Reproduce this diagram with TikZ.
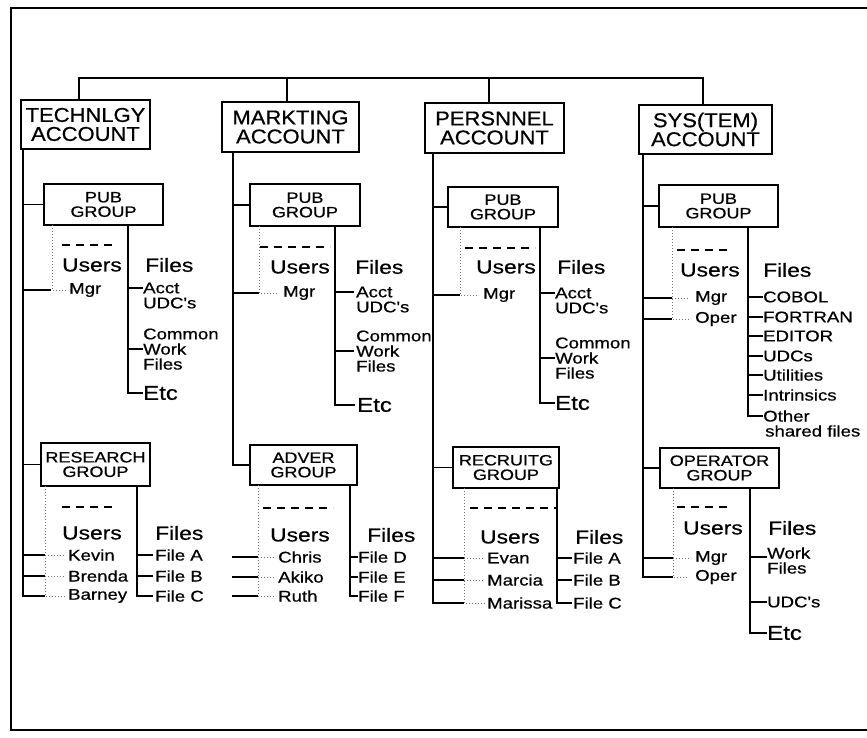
\documentclass[tikz,border=0pt]{standalone}
\usepackage{fontspec}
\setmainfont{Liberation Sans}
\newfontfamily\fa[FakeStretch=1.1,FakeBold=0.6]{Liberation Sans}
\newfontfamily\fb[FakeStretch=1.2,FakeBold=0.6]{Liberation Sans}
\begin{document}
\begin{tikzpicture}[x=1pt,y=-1pt,
  ln/.style={line width=1.8pt, line cap=rect},
  dotl/.style={line width=1pt, dotted, black!55},
  dsh/.style={line width=1.9pt, dash pattern=on 8pt off 6pt},
  acct/.style={draw, line width=1.8pt, inner sep=0pt, align=center, font=\fa\fontsize{20}{19}\selectfont},
  grp/.style={draw, line width=1.8pt, inner sep=0pt, align=center, font=\fb\fontsize{15}{14.5}\selectfont},
  hdr/.style={inner sep=0pt, anchor=west, font=\fb\fontsize{19}{19}\selectfont},
  etc/.style={inner sep=0pt, anchor=west, font=\fb\fontsize{20}{20}\selectfont},
  itm/.style={inner sep=0pt, anchor=west, font=\fb\fontsize{15.5}{14}\selectfont}]
\useasboundingbox (0,0) rectangle (867,738);
% page frame
\coordinate (fr1) at (867,8);
\coordinate (fr2) at (11,8);
\coordinate (fr3) at (11,730);
\coordinate (fr4) at (867,730);
\draw[line width=1.8pt] (fr1) -- (fr2) -- (fr3) -- (fr4);

% accounts
\node[acct, minimum width=129pt, minimum height=49pt] (A1) at (85.5,124.5) {TECHNLGY\\ACCOUNT};
\node[acct, minimum width=137pt, minimum height=50pt] (A2) at (290.5,127) {MARKTING\\ACCOUNT};
\node[acct, minimum width=139pt, minimum height=50pt] (A3) at (494.5,128) {PERSNNEL\\ACCOUNT};
\node[acct, minimum width=133pt, minimum height=49pt] (A4) at (705.5,129.5) {SYS(TEM)\\ACCOUNT};

% bus
\coordinate (b1) at (79,78);
\coordinate (b2) at (287,78);
\coordinate (b3) at (489,78);
\coordinate (b4) at (703,78);
\draw[ln] (b1 |- A1.north) -- (b1) -- (b4) -- (b4 |- A4.north);
\draw[ln] (b2) -- (b2 |- A2.north);
\draw[ln] (b3) -- (b3 |- A3.north);

% account vertical lines (tops)
\coordinate (A1v) at (23,149);
\coordinate (A2v) at (233,152);
\coordinate (A3v) at (433,153);
\coordinate (A4v) at (643,154);

% ================= TECHNLGY =================
\node[grp, minimum width=119pt, minimum height=41pt] (G1) at (103.5,204.5) {PUB\\GROUP};
\draw[ln] (A1v |- G1.west) -- (G1.west);
\node[hdr] (U1) at (62,265) {Users};
\node[hdr] (H1) at (145,265) {Files};
\node[itm] (N1) at (69,290) {Mgr};
\node[itm] (I1a) at (143,288) {Acct};
\node[itm] (I1b) at (143,303) {UDC's};
\node[itm] (I1c) at (143,334) {Common};
\node[itm] (I1d) at (143,349) {Work};
\node[itm] (I1e) at (143,364) {Files};
\node[etc] (E1) at (143,393) {Etc};
\coordinate (D1) at (52,225);
\coordinate (F1) at (128,225);
\coordinate (S1a) at (62,245);
\coordinate (S1b) at (115,245);
\draw[dsh] (S1a) -- (S1b);
\draw[dotl] (D1) |- ([xshift=-2pt]N1.west);
\draw[ln] (A1v |- N1.west) -- ([xshift=-2pt]D1 |- N1.west);
\draw[ln] (F1) |- ([xshift=-1pt]E1.west);
\draw[ln] (F1 |- I1a.west) -- ([xshift=-1pt]I1a.west);
\draw[ln] (F1 |- I1d.west) -- ([xshift=-1pt]I1d.west);

\node[grp, minimum width=109pt, minimum height=43pt] (G2) at (95.5,464.5) {RESEARCH\\GROUP};
\draw[ln] (A1v |- G2.west) -- (G2.west);
\node[hdr] (U2) at (62,533) {Users};
\node[hdr] (H2) at (155,533) {Files};
\node[itm] (N2a) at (68,555) {Kevin};
\node[itm] (N2b) at (68,576) {Brenda};
\node[itm] (N2c) at (68,596) {Barney};
\node[itm] (I2a) at (155,555) {File A};
\node[itm] (I2b) at (155,576) {File B};
\node[itm] (I2c) at (155,596) {File C};
\coordinate (D2) at (45,486);
\coordinate (F2) at (137,486);
\coordinate (S2a) at (62,507);
\coordinate (S2b) at (115,507);
\draw[dsh] (S2a) -- (S2b);
\draw[dotl] (D2) |- ([xshift=-2pt]N2c.west);
\draw[dotl] (D2 |- N2a.west) -- ([xshift=-2pt]N2a.west);
\draw[dotl] (D2 |- N2b.west) -- ([xshift=-2pt]N2b.west);
\draw[ln] (A1v) |- ([xshift=-1pt]D2 |- N2c.west);
\draw[ln] (A1v |- N2a.west) -- ([xshift=-1pt]D2 |- N2a.west);
\draw[ln] (A1v |- N2b.west) -- ([xshift=-1pt]D2 |- N2b.west);
\draw[ln] (F2) |- ([xshift=-3pt]I2c.west);
\draw[ln] (F2 |- I2a.west) -- ([xshift=-3pt]I2a.west);
\draw[ln] (F2 |- I2b.west) -- ([xshift=-3pt]I2b.west);

% ================= MARKTING =================
\node[grp, minimum width=110pt, minimum height=42pt] (G3) at (305,205) {PUB\\GROUP};
\draw[ln] (A2v |- G3.west) -- (G3.west);
\node[hdr] (U3) at (270,267) {Users};
\node[hdr] (H3) at (355,267) {Files};
\node[itm] (N3) at (283,293) {Mgr};
\node[itm] (I3a) at (356,292) {Acct};
\node[itm] (I3b) at (356,307) {UDC's};
\node[itm] (I3c) at (356,336) {Common};
\node[itm] (I3d) at (356,351) {Work};
\node[itm] (I3e) at (356,366) {Files};
\node[etc] (E3) at (357,405) {Etc};
\coordinate (D3) at (259,226);
\coordinate (F3) at (335,226);
\coordinate (S3a) at (260,247);
\coordinate (S3b) at (330,247);
\draw[dsh] (S3a) -- (S3b);
\draw[dotl] (D3) |- ([xshift=-4pt]N3.west);
\draw[ln] (A2v |- N3.west) -- ([xshift=-1pt]D3 |- N3.west);
\draw[ln] (F3) |- ([xshift=-3pt]E3.west);
\draw[ln] (F3 |- I3a.west) -- ([xshift=-3pt]I3a.west);
\draw[ln] (F3 |- I3d.west) -- ([xshift=-3pt]I3d.west);

\node[grp, minimum width=107pt, minimum height=40pt] (G4) at (303.5,465) {ADVER\\GROUP};
\draw[ln] (A2v) |- (G4.west);
\node[hdr] (U4) at (270,535) {Users};
\node[hdr] (H4) at (367,535) {Files};
\node[itm] (N4a) at (278,557) {Chris};
\node[itm] (N4b) at (278,577) {Akiko};
\node[itm] (N4c) at (278,596) {Ruth};
\node[itm] (I4a) at (358,557) {File D};
\node[itm] (I4b) at (358,577) {File E};
\node[itm] (I4c) at (358,596) {File F};
\coordinate (D4) at (258,485);
\coordinate (F4) at (350,485);
\coordinate (S4a) at (263,508);
\coordinate (S4b) at (333,508);
\draw[dsh] (S4a) -- (S4b);
\draw[dotl] (D4) |- ([xshift=-2pt]N4c.west);
\draw[dotl] (D4 |- N4a.west) -- ([xshift=-2pt]N4a.west);
\draw[dotl] (D4 |- N4b.west) -- ([xshift=-2pt]N4b.west);
\draw[ln] (A2v |- N4a.west) -- ([xshift=-1pt]D4 |- N4a.west);
\draw[ln] (A2v |- N4b.west) -- ([xshift=-1pt]D4 |- N4b.west);
\draw[ln] (A2v |- N4c.west) -- ([xshift=-1pt]D4 |- N4c.west);
\draw[ln] (F4) |- ([xshift=-1pt]I4c.west);
\draw[ln] (F4 |- I4a.west) -- ([xshift=-1pt]I4a.west);
\draw[ln] (F4 |- I4b.west) -- ([xshift=-1pt]I4b.west);

% ================= PERSNNEL =================
\node[grp, minimum width=110pt, minimum height=40pt] (G5) at (503,207) {PUB\\GROUP};
\draw[ln] (A3v |- G5.west) -- (G5.west);
\node[hdr] (U5) at (476,267) {Users};
\node[hdr] (H5) at (557,267) {Files};
\node[itm] (N5) at (483,295) {Mgr};
\node[itm] (I5a) at (555,293) {Acct};
\node[itm] (I5b) at (555,308) {UDC's};
\node[itm] (I5c) at (555,343) {Common};
\node[itm] (I5d) at (555,358) {Work};
\node[itm] (I5e) at (555,373) {Files};
\node[etc] (E5) at (555,403) {Etc};
\coordinate (D5) at (460,227);
\coordinate (F5) at (540,227);
\coordinate (S5a) at (465,248);
\coordinate (S5b) at (535,248);
\draw[dsh] (S5a) -- (S5b);
\draw[dotl] (D5) |- ([xshift=-4pt]N5.west);
\draw[ln] (A3v |- N5.west) -- ([xshift=-1pt]D5 |- N5.west);
\draw[ln] (F5) |- ([xshift=-1pt]E5.west);
\draw[ln] (F5 |- I5a.west) -- ([xshift=-1pt]I5a.west);
\draw[ln] (F5 |- I5d.west) -- ([xshift=-1pt]I5d.west);

\node[grp, minimum width=106pt, minimum height=41pt] (G6) at (506,467.5) {RECRUITG\\GROUP};
\draw[ln] (A3v |- G6.west) -- (G6.west);
\node[hdr] (U6) at (480,537) {Users};
\node[hdr] (H6) at (575,537) {Files};
\node[itm] (N6a) at (487,558) {Evan};
\node[itm] (N6b) at (487,580) {Marcia};
\node[itm] (N6c) at (487,603) {Marissa};
\node[itm] (I6a) at (573,558) {File A};
\node[itm] (I6b) at (573,580) {File B};
\node[itm] (I6c) at (573,603) {File C};
\coordinate (D6) at (464,488);
\coordinate (F6) at (557,488);
\coordinate (S6a) at (470,508);
\coordinate (S6b) at (557,508);
\draw[dsh] (S6a) -- (S6b);
\draw[dotl] (D6) |- ([xshift=-2pt]N6c.west);
\draw[dotl] (D6 |- N6a.west) -- ([xshift=-2pt]N6a.west);
\draw[dotl] (D6 |- N6b.west) -- ([xshift=-2pt]N6b.west);
\draw[ln] (A3v) |- ([xshift=-1pt]D6 |- N6c.west);
\draw[ln] (A3v |- N6a.west) -- ([xshift=-1pt]D6 |- N6a.west);
\draw[ln] (A3v |- N6b.west) -- ([xshift=-1pt]D6 |- N6b.west);
\draw[ln] (F6) |- ([xshift=-2pt]I6c.west);
\draw[ln] (F6 |- I6a.west) -- ([xshift=-2pt]I6a.west);
\draw[ln] (F6 |- I6b.west) -- ([xshift=-2pt]I6b.west);

% ================= SYS(TEM) =================
\node[grp, minimum width=119pt, minimum height=42pt] (G7) at (718.5,206) {PUB\\GROUP};
\draw[ln] (A4v |- G7.west) -- (G7.west);
\node[hdr] (U7) at (680,270) {Users};
\node[hdr] (H7) at (763,270) {Files};
\node[itm] (N7a) at (695,298) {Mgr};
\node[itm] (N7b) at (695,319) {Oper};
\node[itm] (I7a) at (763,297) {COBOL};
\node[itm] (I7b) at (763,317) {FORTRAN};
\node[itm] (I7c) at (763,336) {EDITOR};
\node[itm] (I7d) at (763,356) {UDCs};
\node[itm] (I7e) at (763,375) {Utilities};
\node[itm] (I7f) at (763,395) {Intrinsics};
\node[itm] (I7g) at (763,416) {Other};
\node[itm] (I7h) at (765,431) {shared files};
\coordinate (D7) at (672,227);
\coordinate (F7) at (748,227);
\coordinate (S7a) at (677,250);
\coordinate (S7b) at (732,250);
\draw[dsh] (S7a) -- (S7b);
\draw[dotl] (D7) |- ([xshift=-6pt]N7b.west);
\draw[dotl] (D7 |- N7a.west) -- ([xshift=-6pt]N7a.west);
\draw[ln] (A4v |- N7a.west) -- ([xshift=-1pt]D7 |- N7a.west);
\draw[ln] (A4v |- N7b.west) -- ([xshift=-1pt]D7 |- N7b.west);
\draw[ln] (F7) |- ([xshift=-1pt]I7g.west);
\foreach \i in {a,b,c,d,e,f}
  \draw[ln] (F7 |- I7\i.west) -- ([xshift=-1pt]I7\i.west);

\node[grp, minimum width=119pt, minimum height=40pt] (G8) at (719.5,468) {OPERATOR\\GROUP};
\draw[ln] (A4v |- G8.west) -- (G8.west);
\node[hdr] (U8) at (683,528) {Users};
\node[hdr] (H8) at (768,528) {Files};
\node[itm] (N8a) at (695,558) {Mgr};
\node[itm] (N8b) at (695,577) {Oper};
\node[itm] (I8a) at (767,553) {Work};
\node[itm] (I8b) at (767,568) {Files};
\node[itm] (I8c) at (767,602) {UDC's};
\node[etc] (E8) at (767,633) {Etc};
\coordinate (D8) at (673,488);
\coordinate (F8) at (750,488);
\coordinate (S8a) at (677,507);
\coordinate (S8b) at (728,507);
\draw[dsh] (S8a) -- (S8b);
\draw[dotl] (D8) |- ([xshift=-6pt]N8b.west);
\draw[dotl] (D8 |- N8a.west) -- ([xshift=-6pt]N8a.west);
\draw[ln] (A4v) |- ([xshift=-1pt]D8 |- N8b.west);
\draw[ln] (A4v |- N8a.west) -- ([xshift=-1pt]D8 |- N8a.west);
\draw[ln] (F8) |- ([xshift=-1pt]E8.west);
\draw[ln] ([yshift=-4pt]F8 |- I8a.west) -- ([xshift=-1pt,yshift=-4pt]I8a.west);
\draw[ln] (F8 |- I8c.west) -- ([xshift=-1pt]I8c.west);
\end{tikzpicture}
\end{document}
